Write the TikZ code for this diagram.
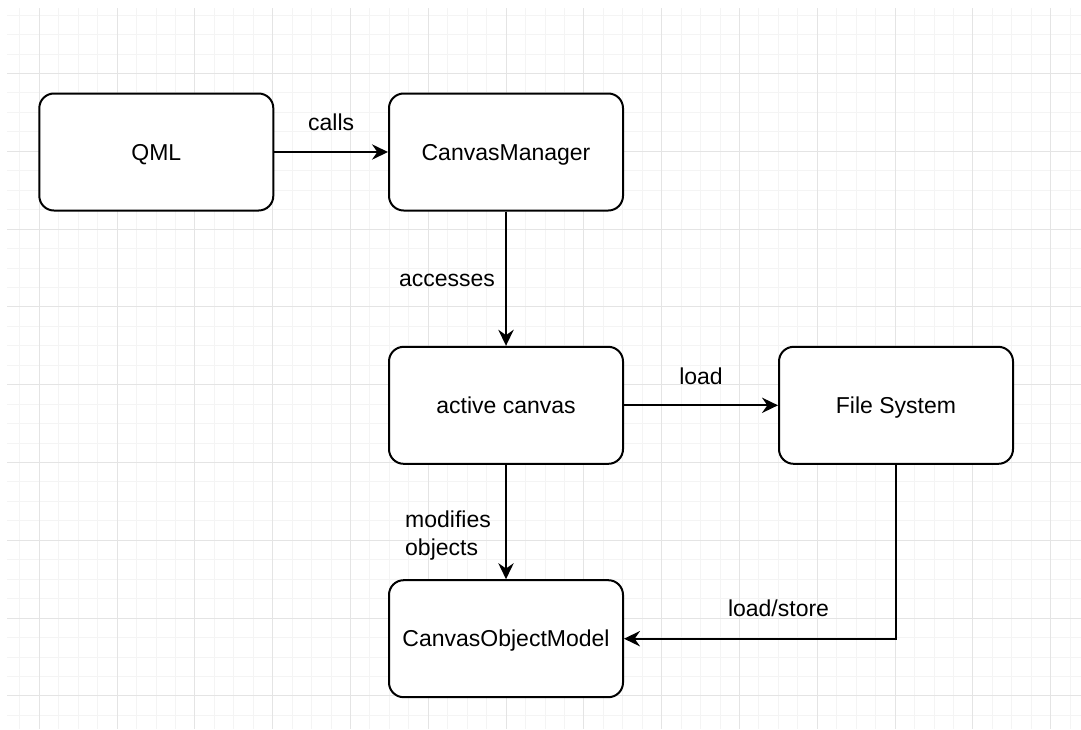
\documentclass[tikz,border=0pt]{standalone}
\usepackage{fontspec}
\setmainfont{Liberation Sans}
\usetikzlibrary{arrows.meta}
\definecolor{minorgrid}{HTML}{F4F4F4}
\definecolor{majorgrid}{HTML}{E4E4E4}
\begin{document}
\begin{tikzpicture}[x=0.75pt,y=-0.75pt,
  box/.style={draw=black, line width=1.5pt, fill=white, rounded corners=11pt,
    minimum width=175.5pt, minimum height=87.75pt, inner sep=0pt,
    text height=12.35pt, text depth=0pt,
    font=\fontsize{17.25}{21}\selectfont},
  arr/.style={draw=black, line width=1.5pt,
    -{Stealth[length=12pt,width=11.5pt,inset=4pt]}},
  lbl/.style={font=\fontsize{17.25}{21}\selectfont, inner sep=0pt, align=left},
  gmin/.style={draw=minorgrid, line width=0.75pt},
  gmaj/.style={draw=majorgrid, line width=0.75pt}]
\useasboundingbox (0,0) rectangle (1081,729);
\fill[white] (0,0) rectangle (1081,729);
\begin{scope}
\clip (7,8) rectangle (1081,729);
\foreach \i in {-2,...,54} {
  \draw[gmin] ({39.3+19.45*\i},8) -- ({39.3+19.45*\i},729);
}
\foreach \i in {-4,...,34} {
  \draw[gmin] (7,{73.5+19.45*\i}) -- (1081,{73.5+19.45*\i});
}
\foreach \i in {0,...,13} {
  \draw[gmaj] ({39.3+77.8*\i},8) -- ({39.3+77.8*\i},729);
}
\foreach \i in {0,...,8} {
  \draw[gmaj] (7,{73.5+77.8*\i}) -- (1081,{73.5+77.8*\i});
}
\end{scope}

\node[box] (qml) at (156.3,152) {QML};
\node[box] (cm) at (506,152) {CanvasManager};
\node[box] (ac) at (506,405.3) {active canvas};
\node[box] (fs) at (896,405.3) {File System};
\node[box] (com) at (506,638.7) {CanvasObjectModel};

\draw[arr] (qml) -- node[lbl, midway, yshift=22.5pt] (lcalls) {calls} (cm);
\draw[arr] (cm) -- node[lbl, midway, xshift=-44.25pt, yshift=-1.5pt] (lacc) {accesses} (ac);
\draw[arr] (ac) -- node[lbl, midway, yshift=21.75pt] (lload) {load} (fs);
\draw[arr] (ac) -- node[lbl, midway, xshift=-43.5pt, yshift=-10.5pt] (lmod) {modifies\\objects} (com);
\draw[arr] (fs.south) |- node[lbl, pos=0.716, yshift=22.5pt] (lls) {load/store} (com.east);
\end{tikzpicture}
\end{document}
